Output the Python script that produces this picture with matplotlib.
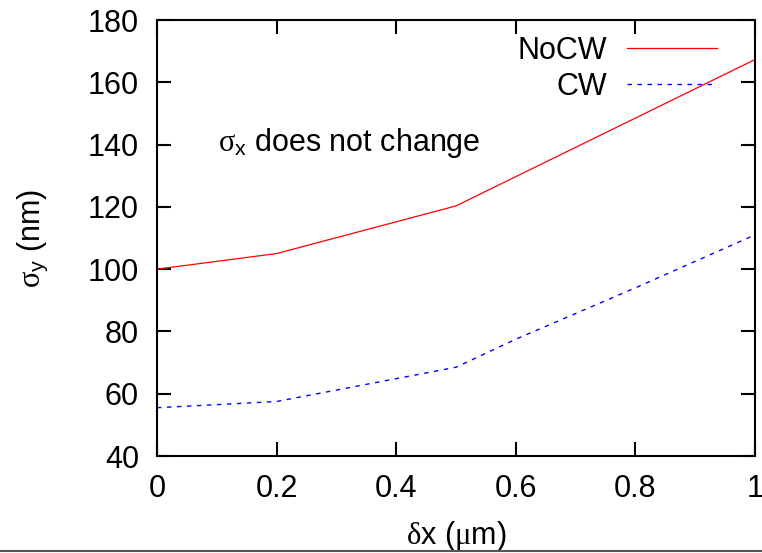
import matplotlib
matplotlib.use("Agg")
import matplotlib.pyplot as plt
from matplotlib.lines import Line2D

plt.rcParams['font.family'] = ['Liberation Sans', 'DejaVu Sans']
plt.rcParams['mathtext.fontset'] = 'custom'
plt.rcParams['mathtext.rm'] = 'Liberation Sans'
plt.rcParams['mathtext.it'] = 'Liberation Serif'
plt.rcParams['mathtext.bf'] = 'Liberation Sans:bold'

# data
dx_nocw = [0.0, 0.2, 0.5, 1.0]
sigma_nocw = [100.0, 105.0, 120.3, 167.3]
dx_cw = [0.0, 0.2, 0.5, 0.6, 0.8, 1.0]
sigma_cw = [55.5, 57.5, 68.5, 77.5, 94.0, 111.0]
xticks = [0, 0.2, 0.4, 0.6, 0.8, 1]
xticklabels = ['0', '0.2', '0.4', '0.6', '0.8', '1']
yticks = [40, 60, 80, 100, 120, 140, 160, 180]

W, H = 762, 553
fig = plt.figure(figsize=(W / 100, H / 100), dpi=100)
ax = fig.add_axes([157 / W, 1 - 456 / H, (755 - 157) / W, (456 - 20) / H])

ax.plot(dx_nocw, sigma_nocw, color='#ff0000', lw=0.9, label='NoCW')
ax.plot(dx_cw, sigma_cw, color='#0000ff', lw=1.0, dashes=(3.2, 4.0), label='CW')

ax.set_xlim(0, 1)
ax.set_ylim(40, 180)
ax.set_xticks(xticks)
ax.set_xticklabels(xticklabels)
ax.set_yticks(yticks)

fs = 22
ax.tick_params(direction='in', length=10, width=1.5, labelsize=fs, pad=13,
               top=True, right=True)
for s in ax.spines.values():
    s.set_linewidth(1.5)

ax.set_xlabel(r'$\delta$x ($\mu$m)', fontsize=fs, labelpad=11)
ax.set_ylabel(r'$\sigma_\mathrm{y}$ (nm)', fontsize=fs, labelpad=27)

ax.text(0.102, 140.5, r'$\sigma_\mathrm{x}$ does not change', fontsize=fs,
        va='center', ha='left')

leg = ax.legend(loc='upper right', bbox_to_anchor=(717 / W, 1 - 36 / H),
                bbox_transform=fig.transFigure, frameon=False, markerfirst=False,
                fontsize=fs, handlelength=2.95, handletextpad=0.65,
                borderpad=0, borderaxespad=0, labelspacing=0.2)

fig.add_artist(Line2D([0, 1], [1 - 550.5 / H, 1 - 550.5 / H],
                      transform=fig.transFigure, color='#555555', lw=1.5))

fig.savefig('out.png', dpi=100)
